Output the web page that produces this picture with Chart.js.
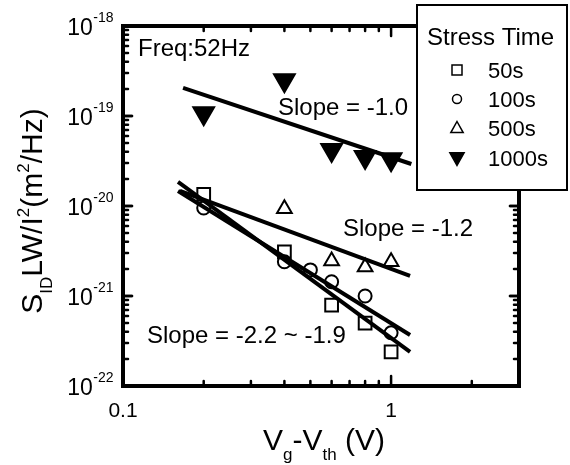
<!DOCTYPE html>
<html>
<head>
<meta charset="utf-8">
<script src="https://cdn.jsdelivr.net/npm/chart.js@4/dist/chart.umd.min.js"></script>
<style>
  html, body { margin: 0; background: #fff; }
  #wrap { width: 570px; height: 465px; }
</style>
</head>
<body>
<div id="wrap"><canvas id="noiseChart" width="570" height="465"></canvas></div>
<script>
// Vg - Vth (V) where each stress time was measured
const vg50 = [0.2, 0.4, 0.6, 0.8, 1.0];
const vg100 = [0.2, 0.4, 0.5, 0.6, 0.8, 1.0];
const vg500 = [0.4, 0.6, 0.8, 1.0];
const vg1000 = [0.2, 0.4, 0.6, 0.8, 1.0];

// normalized noise S_ID*LW/I^2 (m^2/Hz)
const noise50 = [1.35e-20, 3.1e-21, 7.9e-22, 5.0e-22, 2.4e-22];
const noise100 = [9.5e-21, 2.4e-21, 1.95e-21, 1.44e-21, 1.0e-21, 3.9e-22];
const noise500 = [9.3e-21, 2.45e-21, 2.1e-21, 2.4e-21];
const noise1000 = [1.07e-19, 2.5e-19, 4.2e-20, 3.5e-20, 3.3e-20];

// fit lines (end points)
const fitX = [0.1604, 1.177];
const fit50 = [1.85e-20, 2.39e-22];
const fit100 = [1.47e-20, 3.69e-22];
const fit500X = [0.163, 1.177];
const fit500 = [1.47e-20, 1.67e-21];
const fit1000X = [0.1675, 1.19];
const fit1000 = [2.05e-19, 2.93e-20];

const xTicks = [0.1, 1];
const xTickLabels = ["0.1", "1"];
const yTicks = [1e-18, 1e-19, 1e-20, 1e-21, 1e-22];
const yTickLabels = ["-18", "-19", "-20", "-21", "-22"];

const legendNames = ["50s", "100s", "500s", "1000s"];

const FONT = "'Liberation Sans', Arial, sans-serif";

function pts(xs, ys) {
  return xs.map((x, i) => ({ x: x, y: ys[i] }));
}

function fitLine(xs, ys) {
  return {
    data: pts(xs, ys),
    showLine: true,
    borderColor: "#000",
    borderWidth: 4,
    pointRadius: 0,
    fill: false,
  };
}

const markerStyles = [
  { pointStyle: "rect", rotation: 0, radius: 9, fill: false },
  { pointStyle: "circle", rotation: 0, radius: 6.5, fill: false },
  { pointStyle: "triangle", rotation: 0, radius: 8.5, fill: false },
  { pointStyle: "triangle", rotation: 180, radius: 12, fill: true },
];

function scatter(xs, ys, st) {
  return {
    data: pts(xs, ys),
    showLine: false,
    pointStyle: st.pointStyle,
    rotation: st.rotation,
    pointRadius: st.radius,
    pointBorderWidth: 2,
    pointBorderColor: "#000",
    pointBackgroundColor: st.fill ? "#000" : "rgba(0,0,0,0)",
  };
}

// draw "10" with a superscript, right aligned at x
function drawPower(ctx, exp, xRight, yMid) {
  ctx.font = "23px " + FONT;
  const wBase = ctx.measureText("10").width;
  ctx.font = "14px " + FONT;
  const wExp = ctx.measureText(exp).width;
  const x0 = xRight - wExp - wBase;
  ctx.textBaseline = "alphabetic";
  ctx.textAlign = "left";
  ctx.font = "23px " + FONT;
  ctx.fillText("10", x0, yMid + 8.5);
  ctx.font = "14px " + FONT;
  ctx.fillText(exp, x0 + wBase + 0.5, yMid - 4);
}

// draw a run of [text, kind] parts: kind "n" normal, "sub", "sup"
function drawRich(ctx, parts, x, y, size, align) {
  const small = Math.round(size * 0.58);
  let total = 0;
  parts.forEach((p) => {
    ctx.font = (p[1] === "n" ? size : small) + "px " + FONT;
    total += ctx.measureText(p[0]).width;
  });
  let cx = align === "center" ? x - total / 2 : x;
  ctx.textAlign = "left";
  ctx.textBaseline = "alphabetic";
  parts.forEach((p) => {
    ctx.font = (p[1] === "n" ? size : small) + "px " + FONT;
    let dy = 0;
    if (p[1] === "sub") dy = size * 0.32;
    if (p[1] === "sup") dy = -size * 0.42;
    ctx.fillText(p[0], cx, y + dy);
    cx += ctx.measureText(p[0]).width;
  });
}

function drawMarker(ctx, st, x, y, r) {
  ctx.beginPath();
  if (st.pointStyle === "rect") {
    ctx.rect(x - r, y - r, 2 * r, 2 * r);
  } else if (st.pointStyle === "circle") {
    ctx.arc(x, y, r, 0, Math.PI * 2);
  } else {
    const s = st.rotation ? -1 : 1;
    ctx.moveTo(x, y - s * r);
    ctx.lineTo(x + r * 0.95, y + s * r * 0.7);
    ctx.lineTo(x - r * 0.95, y + s * r * 0.7);
    ctx.closePath();
  }
  if (st.fill) ctx.fill();
  ctx.stroke();
}

const framePlugin = {
  id: "frame",
  afterDraw(chart) {
    const ctx = chart.ctx;
    const xs = chart.scales.x;
    const ys = chart.scales.y;
    const a = chart.chartArea;
    ctx.save();
    ctx.strokeStyle = "#000";
    ctx.fillStyle = "#000";

    // ticks, inward, on all four sides
    ctx.lineCap = "round";
    ctx.lineWidth = 2.5;
    for (let d = -22; d < -18; d++) {
      for (let k = 1; k <= 10; k++) {
        const v = k * Math.pow(10, d);
        const py = ys.getPixelForValue(v);
        const len = k === 1 || k === 10 ? 9 : 5;
        ctx.beginPath();
        ctx.moveTo(a.left, py);
        ctx.lineTo(a.left + len, py);
        ctx.moveTo(a.right, py);
        ctx.lineTo(a.right - len, py);
        ctx.stroke();
      }
    }
    const xt = [0.1, 0.2, 0.3, 0.4, 0.5, 0.6, 0.7, 0.8, 0.9, 1, 2, 3];
    xt.forEach((v) => {
      const px = xs.getPixelForValue(v);
      const len = v === 0.1 || v === 1 ? 10 : 5;
      ctx.beginPath();
      ctx.moveTo(px, a.bottom);
      ctx.lineTo(px, a.bottom - len);
      ctx.moveTo(px, a.top);
      ctx.lineTo(px, a.top + len);
      ctx.stroke();
    });

    // frame
    ctx.lineCap = "butt";
    ctx.lineWidth = 4;
    ctx.strokeRect(a.left, a.top, a.right - a.left, a.bottom - a.top);

    // y tick labels
    yTicks.forEach((v, i) => {
      drawPower(ctx, yTickLabels[i], a.left - 10, ys.getPixelForValue(v));
    });

    // x tick labels
    ctx.font = "21px " + FONT;
    ctx.textAlign = "center";
    ctx.textBaseline = "alphabetic";
    xTicks.forEach((v, i) => {
      ctx.fillText(xTickLabels[i], xs.getPixelForValue(v), a.bottom + 31);
    });

    // axis titles
    drawRich(
      ctx,
      [["V", "n"], ["g", "sub"], ["-V", "n"], ["th", "sub"], [" (V)", "n"]],
      (a.left + a.right) / 2 + 3,
      a.bottom + 64,
      30,
      "center"
    );
    ctx.save();
    ctx.translate(42, (a.top + a.bottom) / 2 + 5);
    ctx.rotate(-Math.PI / 2);
    drawRich(
      ctx,
      [["S", "n"], ["ID", "sub"], ["LW/I", "n"], ["2", "sup"], ["(m", "n"], ["2", "sup"], ["/Hz)", "n"]],
      0,
      0,
      30,
      "center"
    );
    ctx.restore();

    // annotations
    ctx.font = "24px " + FONT;
    ctx.textAlign = "left";
    ctx.textBaseline = "alphabetic";
    ctx.fillText("Freq:52Hz", 138, 56);
    ctx.fillText("Slope = -1.0", 278, 115);
    ctx.fillText("Slope = -1.2", 343, 236);
    ctx.fillText("Slope = -2.2 ~ -1.9", 147, 343);

    // legend box
    ctx.fillStyle = "#fff";
    ctx.fillRect(417, 5, 150, 185);
    ctx.lineWidth = 2;
    ctx.strokeStyle = "#000";
    ctx.strokeRect(417, 5, 150, 185);
    ctx.fillStyle = "#000";
    ctx.font = "24px " + FONT;
    ctx.fillText("Stress Time", 427, 45);
    const rows = [70, 99, 128, 158];
    const sizes = [5, 4.5, 6.5, 7.5];
    ctx.lineWidth = 1.5;
    legendNames.forEach((name, i) => {
      drawMarker(ctx, markerStyles[i], 457, rows[i], sizes[i]);
      ctx.font = "22px " + FONT;
      ctx.fillText(name, 488, rows[i] + 8);
    });
    ctx.restore();
  },
};

new Chart(document.getElementById("noiseChart"), {
  type: "scatter",
  data: {
    datasets: [
      fitLine(fitX, fit50),
      fitLine(fitX, fit100),
      fitLine(fit500X, fit500),
      fitLine(fit1000X, fit1000),
      scatter(vg50, noise50, markerStyles[0]),
      scatter(vg100, noise100, markerStyles[1]),
      scatter(vg500, noise500, markerStyles[2]),
      scatter(vg1000, noise1000, markerStyles[3]),
    ],
  },
  options: {
    responsive: false,
    animation: false,
    events: [],
    layout: { padding: { left: 123, top: 26, right: 51, bottom: 79 } },
    plugins: { legend: { display: false }, tooltip: { enabled: false } },
    scales: {
      x: { type: "logarithmic", min: 0.1, max: 3, display: false },
      y: { type: "logarithmic", min: 1e-22, max: 1e-18, display: false },
    },
  },
  plugins: [framePlugin],
});
</script>
</body>
</html>
